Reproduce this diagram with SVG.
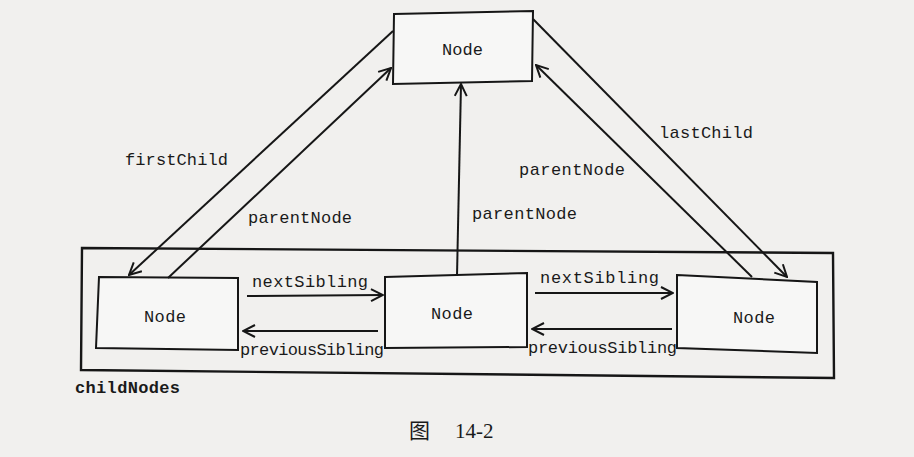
<svg xmlns="http://www.w3.org/2000/svg" width="914" height="457" viewBox="0 0 914 457">
<style>
.bg{fill:#f1f0ee}
.box{fill:#f7f7f6;stroke:#161616;stroke-width:2}
.frame{fill:none;stroke:#161616;stroke-width:2.4}
.ln{fill:none;stroke:#161616;stroke-width:2}
.t{font-family:"Liberation Mono","DejaVu Sans Mono",monospace;font-size:17px;fill:#1a1a1a}
.b{font-weight:bold}
.cap{font-family:"Liberation Serif","Noto Sans CJK SC",serif;font-size:21px;fill:#1a1a1a}
</style>
<defs>
<marker id="ah" viewBox="0 0 14 14" refX="13" refY="7" markerWidth="14" markerHeight="14" markerUnits="userSpaceOnUse" orient="auto">
<path d="M1,1 L13,7 L1,13" fill="none" stroke="#161616" stroke-width="2"/>
</marker>
</defs>
<rect class="bg" x="0" y="0" width="914" height="457"/>
<g id="childNodes">
<polygon class="frame" points="82,248 833,253 834,378 81,370"/>
<text class="t b" x="75" y="393" textLength="105">childNodes</text>
</g>
<g id="node-parent">
<polygon class="box" points="394,14 533,11 532,81 393,84"/>
<text class="t" x="442" y="55" textLength="41">Node</text>
</g>
<g id="node-first">
<polygon class="box" points="99,277 238,278 238,350 96,348"/>
<text class="t" x="144" y="322" textLength="42">Node</text>
</g>
<g id="node-middle">
<polygon class="box" points="385,277 527,273 527,347 385,348"/>
<text class="t" x="431" y="319" textLength="42">Node</text>
</g>
<g id="node-last">
<polygon class="box" points="677,275 817,282 817,353 677,348"/>
<text class="t" x="733" y="323" textLength="42">Node</text>
</g>
<g id="connectors">
<line class="ln" x1="393" y1="31" x2="129" y2="275" marker-end="url(#ah)"/>
<line class="ln" x1="168" y1="278" x2="391" y2="68" marker-end="url(#ah)"/>
<line class="ln" x1="457" y1="276" x2="461" y2="84" marker-end="url(#ah)"/>
<line class="ln" x1="752" y1="277" x2="536" y2="65" marker-end="url(#ah)"/>
<line class="ln" x1="533" y1="19" x2="787" y2="277" marker-end="url(#ah)"/>
<line class="ln" x1="247" y1="296" x2="383" y2="295" marker-end="url(#ah)"/>
<line class="ln" x1="378" y1="331" x2="243" y2="331" marker-end="url(#ah)"/>
<line class="ln" x1="535" y1="293" x2="673" y2="293" marker-end="url(#ah)"/>
<line class="ln" x1="672" y1="329" x2="532" y2="329" marker-end="url(#ah)"/>
<text class="t" x="125" y="165" textLength="103">firstChild</text>
<text class="t" x="248" y="223" textLength="104">parentNode</text>
<text class="t" x="472" y="219" textLength="105">parentNode</text>
<text class="t" x="519" y="175" textLength="106">parentNode</text>
<text class="t" x="659" y="138" textLength="94">lastChild</text>
<text class="t" x="252" y="287" textLength="116">nextSibling</text>
<text class="t" x="240" y="355" textLength="144">previousSibling</text>
<text class="t" x="540" y="283" textLength="119">nextSibling</text>
<text class="t" x="528" y="353" textLength="149">previousSibling</text>
</g>
<g id="caption">
<text class="cap" x="409" y="438">图</text>
<text class="cap" x="455" y="438">14-2</text>
</g>
</svg>
